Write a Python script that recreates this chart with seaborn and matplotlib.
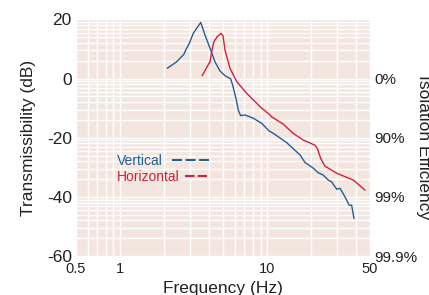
import numpy as np
import matplotlib
matplotlib.use("Agg")
import matplotlib.pyplot as plt
import seaborn as sns
from matplotlib.lines import Line2D
from matplotlib.ticker import FixedLocator, FixedFormatter, NullFormatter, LogLocator

# Vertical transmissibility curve (Hz, dB)
vert_freq = [2.09, 2.42, 2.71, 2.81, 2.95, 3.14, 3.31, 3.53, 3.77, 4.08, 4.41, 4.77,
             5.16, 5.64, 5.82, 6.13, 6.35, 6.59, 7.06, 8.04, 9.16, 10.3, 11.0, 13.6,
             16.7, 18.1, 20.6, 22.2, 24.0, 26.0, 27.4, 29.7, 31.3, 33.8, 36.1, 37.5, 38.9]
vert_db = [3.5, 5.7, 8.2, 10.0, 11.9, 15.3, 17.0, 19.0, 14.8, 10.3, 5.7, 2.6,
           1.0, -0.1, -2.2, -6.7, -10.6, -12.5, -12.3, -13.4, -15.1, -17.7, -18.5, -21.7,
           -25.8, -28.4, -30.3, -31.8, -32.6, -34.3, -34.9, -37.4, -37.1, -40.0, -42.8, -42.8, -47.3]

# Horizontal transmissibility curve (Hz, dB)
horiz_freq = [3.61, 3.87, 4.08, 4.19, 4.34, 4.57, 4.84, 5.0, 5.16, 5.58, 6.2, 7.25,
              8.47, 8.93, 10.45, 10.7, 12.85, 15.0, 17.6, 21.1, 21.9, 23.1, 24.7, 29.7,
              38.5, 46.2]
horiz_db = [1.0, 3.7, 5.7, 9.1, 12.5, 14.2, 15.3, 14.5, 9.7, 3.5, -1.0, -5.0,
            -8.3, -9.5, -12.3, -12.9, -15.4, -18.5, -20.8, -22.5, -23.6, -27.0, -29.6, -32.0,
            -34.3, -37.7]

x_ticks = [0.5, 1, 10, 50]
x_ticklabels = ["0.5", "1", "10", "50"]
y_ticks = [20, 0, -20, -40, -60]
y_ticklabels = ["20", "0", "-20", "-40", "-60"]
eff_ticklabels = ["", "0%", "90%", "99%", "99.9%"]

blue = "#215e98"
red = "#d0203c"
bg = "#f3e6df"

sns.set_style("white", {"axes.facecolor": bg, "grid.color": "white"})
plt.rcParams["font.family"] = ["Liberation Sans", "DejaVu Sans"]

fig = plt.figure(figsize=(4.29, 2.95), dpi=100)
ax = fig.add_axes([0.177, 0.132, 0.6855, 0.802])

sns.lineplot(x=vert_freq, y=vert_db, color=blue, lw=1.0, estimator=None, sort=False, ax=ax)
sns.lineplot(x=horiz_freq, y=horiz_db, color=red, lw=1.0, estimator=None, sort=False, ax=ax)

ax.set_xscale("log")
ax.set_xlim(0.5, 50)
ax.set_ylim(-60, 20)
ax.xaxis.set_major_locator(FixedLocator(x_ticks))
ax.xaxis.set_major_formatter(FixedFormatter(x_ticklabels))
ax.xaxis.set_minor_locator(LogLocator(base=10, subs=np.arange(2, 10)))
ax.xaxis.set_minor_formatter(NullFormatter())
ax.yaxis.set_major_locator(FixedLocator(y_ticks))
ax.yaxis.set_major_formatter(FixedFormatter(y_ticklabels))
# minor horizontal lines follow linear transmissibility steps
ygrid = [20 * np.log10(k * 10.0 ** d) for d in range(-3, 1) for k in range(2, 10)]
ax.yaxis.set_minor_locator(FixedLocator(ygrid))
ax.grid(True, which="both", color="white", lw=1.0)
ax.set_axisbelow(True)
for s in ax.spines.values():
    s.set_visible(False)
ax.tick_params(which="both", length=0)
ax.tick_params(axis="x", pad=4, labelsize=10.5, colors="#222222")
ax.tick_params(axis="y", pad=3, labelsize=12.5, colors="#222222")

ax.set_xlabel("Frequency (Hz)", fontsize=12.5, color="#222222", labelpad=4)
ax.set_ylabel("Transmissibility (dB)", fontsize=12.5, color="#222222", labelpad=8)

ax2 = ax.twinx()
ax2.set_ylim(-60, 20)
ax2.yaxis.set_major_locator(FixedLocator(y_ticks))
ax2.yaxis.set_major_formatter(FixedFormatter(eff_ticklabels))
ax2.tick_params(length=0, pad=3, labelsize=11, colors="#222222")
for s in ax2.spines.values():
    s.set_visible(False)
fig.text(424 / 429, 1 - 147 / 295, "Isolation Efficiency", rotation=270,
         ha="center", va="center", fontsize=12.5, color="#222222")

# legend rows with the dashes right after each label
h_v = Line2D([], [], color=blue, lw=1.5, linestyle=(0, (4.8, 1.7)))
h_h = Line2D([], [], color=red, lw=1.5, linestyle=(0, (4.6, 1.5)))
leg1 = ax.legend([h_v], ["Vertical"], loc="center left", bbox_to_anchor=(0.138, 0.403),
                 frameon=False, markerfirst=False, borderpad=0, borderaxespad=0,
                 handlelength=2.7, handletextpad=0.68, fontsize=10, labelcolor=blue)
ax.add_artist(leg1)
ax.legend([h_h], ["Horizontal"], loc="center left", bbox_to_anchor=(0.138, 0.335),
          frameon=False, markerfirst=False, borderpad=0, borderaxespad=0,
          handlelength=1.6, handletextpad=0.4, fontsize=10, labelcolor=red)

fig.savefig("out.png", dpi=100)
